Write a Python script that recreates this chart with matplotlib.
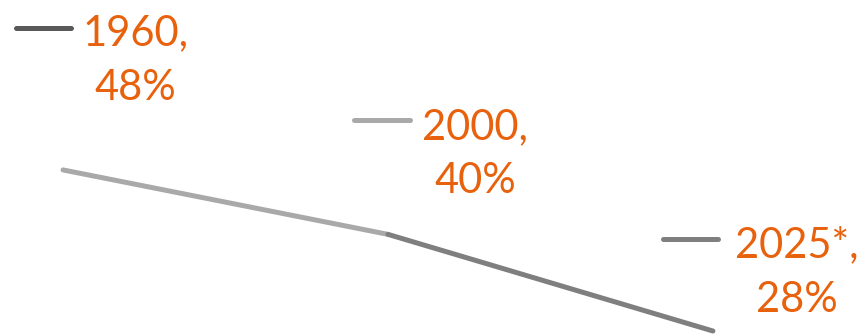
import matplotlib
matplotlib.use('Agg')
from matplotlib import pyplot as plt
from matplotlib import transforms

years = ['1960', '2000', '2025*']
shares = [48, 40, 28]
point_colors = ['#595959', '#a9a9a9', '#7f7f7f']
label_color = '#e8610c'

# label layout (pixels relative to each point): dash centre, text centre/last baseline
dash_off = [(-20, 142), (-6, 114), (-22, 92)]
text_off = [(72, 70), (87, 41), (84, 19)]

fig = plt.figure(figsize=(8.65, 3.36), dpi=100)
ax = fig.add_axes([0, 0, 1, 1])
x = list(range(len(years)))

# each segment takes the colour of the point it ends at (excel style)
for i in range(1, len(x)):
    ax.plot(x[i-1:i+1], shares[i-1:i+1], color=point_colors[i], lw=3.6,
            solid_capstyle='round')

for i in range(len(x)):
    dx, dy = dash_off[i]
    tr = transforms.offset_copy(ax.transData, fig=fig, x=dx, y=dy, units='dots')
    ax.plot([x[i] - 0.0847, x[i] + 0.0847], [shares[i], shares[i]], transform=tr,
            color=point_colors[i], lw=3.6, solid_capstyle='round')
    tx, ty = text_off[i]
    ax.annotate(f'{years[i]},\n{shares[i]}%', (x[i], shares[i]),
                xytext=(tx, ty), textcoords='offset pixels',
                ha='center', va='baseline', multialignment='center',
                fontsize=30, family=['Lato', 'DejaVu Sans'], color=label_color,
                linespacing=1.53)

ax.set_xlim(-0.194, 2.468)
ax.set_ylim(27.38, 69.1)
ax.axis('off')

fig.savefig('out.png', dpi=100)
